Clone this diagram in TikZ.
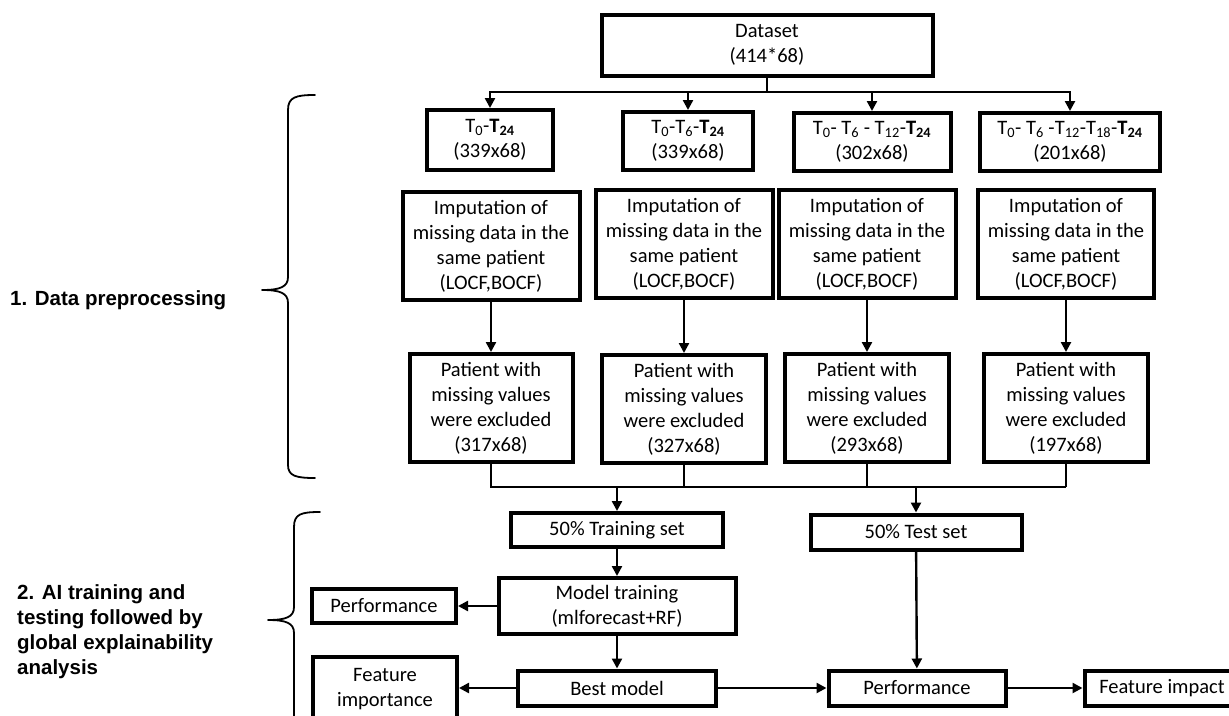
\documentclass[tikz,border=0pt]{standalone}
\usepackage{fontspec}
\setmainfont{Carlito}
\newfontfamily\stagefont{Liberation Sans}
\usetikzlibrary{arrows.meta}

\tikzset{
  box/.style={draw,line width=4pt,align=center,inner sep=0pt,font=\fontsize{20.5}{25}\selectfont},
  stage/.style={align=left,inner sep=0pt,font=\stagefont\bfseries\fontsize{20.5}{25}\selectfont},
  link/.style={line width=2.4pt},
  brace/.style={line width=1.8pt,line cap=round,line join=round}
}
\newcommand{\Tsub}[1]{T\textsubscript{#1}}

\begin{document}
\begin{tikzpicture}[x=1pt,y=-1pt,>={Triangle[length=10pt,width=10pt]}]
\useasboundingbox (0,0) rectangle (1229,715);
\fill[white] (0,0) rectangle (1229,715);
\clip (0,0) rectangle (1229,715);

% stage labels and braces
\node[stage,anchor=west] (prep) at (10,300) {1. Data preprocessing};
\node[stage,anchor=west] (train) at (17,632) {2. AI training and\\testing followed by\\global explainability\\analysis};
\draw[brace] (315,95) .. controls (296,95) and (288,97) .. (288,110) -- (288,277) .. controls (288,287) and (280,290) .. (262,290) .. controls (280,290) and (288,293) .. (288,303) -- (288,465) .. controls (288,476) and (296,478) .. (315,478);
\draw[brace] (320,512) .. controls (301,512) and (294,514) .. (294,527) -- (294,607) .. controls (294,617) and (286,620) .. (268,620) .. controls (286,620) and (294,623) .. (294,633) -- (294,730);

% dataset and subsets
\node[box,minimum width=331,minimum height=61] (data) at (767,45) {Dataset\\(414*68)};
\node[box,minimum width=126,minimum height=60] (sub1) at (490,140) {\Tsub{0}-\textbf{\Tsub{24}}\\(339x68)};
\node[box,minimum width=130,minimum height=58] (sub2) at (688,141) {\Tsub{0}-\Tsub{6}-\textbf{\Tsub{24}}\\(339x68)};
\node[box,minimum width=157,minimum height=58] (sub3) at (872,142) {\Tsub{0}- \Tsub{6} - \Tsub{12}-\textbf{\Tsub{24}}\\(302x68)};
\node[box,minimum width=180,minimum height=58] (sub4) at (1070,142) {\Tsub{0}- \Tsub{6} -\Tsub{12}-\Tsub{18}-\textbf{\Tsub{24}}\\(201x68)};

% imputation
\node[box,minimum width=177,minimum height=108] (imp1) at (491,246) {Imputation of\\missing data in the\\same patient\\(LOCF,BOCF)};
\node[box,minimum width=177,minimum height=108] (imp2) at (684,244) {Imputation of\\missing data in the\\same patient\\(LOCF,BOCF)};
\node[box,minimum width=177,minimum height=108] (imp3) at (867,244) {Imputation of\\missing data in the\\same patient\\(LOCF,BOCF)};
\node[box,minimum width=176,minimum height=108] (imp4) at (1066,244) {Imputation of\\missing data in the\\same patient\\(LOCF,BOCF)};

% exclusion
\node[box,minimum width=163,minimum height=108] (exc1) at (491,408) {Patient with\\missing values\\were excluded\\(317x68)};
\node[box,minimum width=164,minimum height=108] (exc2) at (684,409) {Patient with\\missing values\\were excluded\\(327x68)};
\node[box,minimum width=164,minimum height=108] (exc3) at (867,408) {Patient with\\missing values\\were excluded\\(293x68)};
\node[box,minimum width=164,minimum height=108] (exc4) at (1066,408) {Patient with\\missing values\\were excluded\\(197x68)};

% training and testing
\node[box,minimum width=212,minimum height=34] (trainset) at (617,530) {50\% Training set};
\node[box,minimum width=211,minimum height=35] (testset) at (916,532) {50\% Test set};
\node[box,minimum width=237,minimum height=56] (model) at (617,606) {Model training\\(mlforecast+RF)};
\node[box,minimum width=144,minimum height=34] (perftrain) at (384,606) {Performance};
\node[box,minimum width=198,minimum height=35] (best) at (617,688) {Best model};
\node[box,minimum width=144,minimum height=64] (featimp) at (385,689) {Feature\\importance};
\node[box,minimum width=177,minimum height=35] (perftest) at (917,688) {Performance};
\node[box,minimum width=155,minimum height=35] (impact) at (1162,688) {Feature impact};

% connectors
\coordinate (split) at (767,92);
\coordinate (merge) at (1066,487);
\draw[link] (data) -- (split);
\foreach \s in {sub1,sub2,sub3,sub4}
  \draw[link,->] (split) -| (\s);
\foreach \i in {1,2,3,4}
  \draw[link,->] (imp\i) -- (exc\i);
\draw[link] (exc1) |- (merge);
\foreach \i in {2,3,4}
  \draw[link] (exc\i) -- (exc\i |- merge);
\draw[link,->] (trainset |- merge) -- (trainset);
\draw[link,->] (testset |- merge) -- (testset);
\draw[link,->] (trainset) -- (model);
\draw[link,->] (model) -- (perftrain);
\draw[link,->] (model) -- (best);
\draw[link,->] (best) -- (featimp.east |- best);
\draw[link,->] (best) -- (perftest);
\draw[link,->] (testset) -- (perftest);
\draw[link,->] (perftest) -- (impact);
\end{tikzpicture}
\end{document}
